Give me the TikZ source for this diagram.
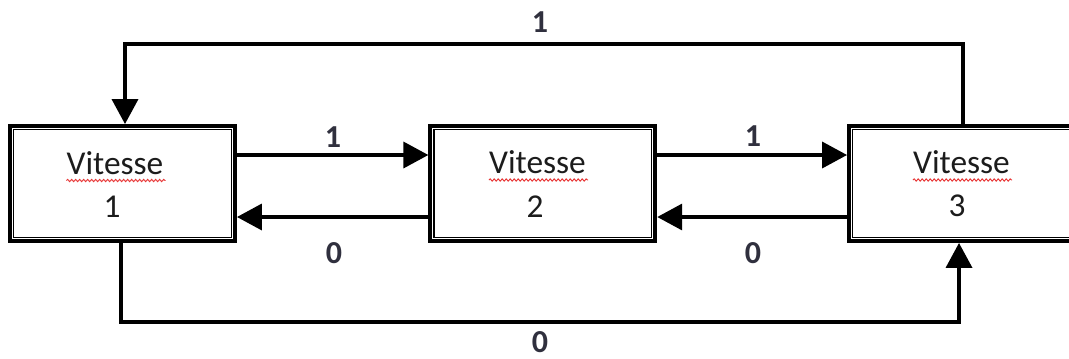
\documentclass[tikz,border=0pt]{standalone}
\usepackage{fontspec}
\setmainfont{Carlito}
\usetikzlibrary{arrows.meta,calc,decorations.pathmorphing}
\definecolor{labelgray}{RGB}{48,48,62}
\definecolor{textblack}{RGB}{28,28,28}
\definecolor{spellred}{RGB}{232,56,56}
\tikzset{
  statebox/.style={draw=black, line width=2.9pt, fill=white, minimum height=86.25pt, inner sep=0pt},
  innerline/.style={draw=black, line width=1.05pt},
  conn/.style={draw=black, line width=2.7pt, -{Triangle[length=18.75pt, width=19.5pt]}},
  boxtext/.style={inner sep=0pt, anchor=base, text=textblack, font=\fontsize{25pt}{30pt}\selectfont},
  edgelabel/.style={inner sep=0pt, text=labelgray, font=\fontsize{24pt}{28pt}\selectfont\bfseries},
  squiggle/.style={draw=spellred, line width=0.7pt, decorate,
    decoration={snake, segment length=3pt, amplitude=0.85pt}}
}
\begin{document}
\begin{tikzpicture}[x=0.75pt, y=-0.75pt]
\useasboundingbox (0,0) rectangle (1069,358);
\clip (0,0) rectangle (1069,358);

% the three states
\node[statebox, minimum width=168.75pt] (b1) at (122.5,183.5) {};
\node[statebox, minimum width=168.75pt] (b2) at (542.8,183.5) {};
\node[statebox, minimum width=180pt] (b3) at (969,183.5) {};
\foreach \b in {b1,b2,b3}
  \draw[innerline] ($(\b.north west)+(5.5,5.5)$) rectangle ($(\b.south east)+(-5.5,-5.5)$);

% state texts
\node[boxtext] (v1) at (115,174) {Vitesse};
\node[boxtext] (n1) at (112,217) {1};
\node[boxtext] (v2) at (537.5,173.5) {Vitesse};
\node[boxtext] (n2) at (535,217) {2};
\node[boxtext] (v3) at (961.5,173.5) {Vitesse};
\node[boxtext] (n3) at (957,216) {3};
\foreach \v in {v1,v2,v3}
  \draw[squiggle] ($(\v.base west)+(0,6.5)$) -- ($(\v.base east)+(2,6.5)$);

% routing helpers
\coordinate (hi) at (0,155);
\coordinate (lo) at (0,217);
\coordinate (topL) at (125,44);
\coordinate (topR) at (963,44);
\coordinate (botL) at (121,322);
\coordinate (botR) at (959,322);

% transitions between neighbouring states
\draw[conn] (b1.east |- hi) -- (b2.west |- hi);
\draw[conn] (b2.west |- lo) -- (b1.east |- lo);
\draw[conn] (b2.east |- hi) -- (b3.west |- hi);
\draw[conn] (b3.west |- lo) -- (b2.east |- lo);

% long transitions around the outside
\draw[conn] (b3.north -| topR) -- (topR) -- (topL) -- (b1.north -| topL);
\draw[conn] (b1.south -| botL) -- (botL) -- (botR) -- (b3.south -| botR);

% transition labels
\node[edgelabel] (l13) at (540,22) {1};
\node[edgelabel] (l12) at (333,137) {1};
\node[edgelabel] (l21) at (334,253) {0};
\node[edgelabel] (l23) at (753,136) {1};
\node[edgelabel] (l32) at (753,253) {0};
\node[edgelabel] (l31) at (540,342) {0};
\end{tikzpicture}
\end{document}
